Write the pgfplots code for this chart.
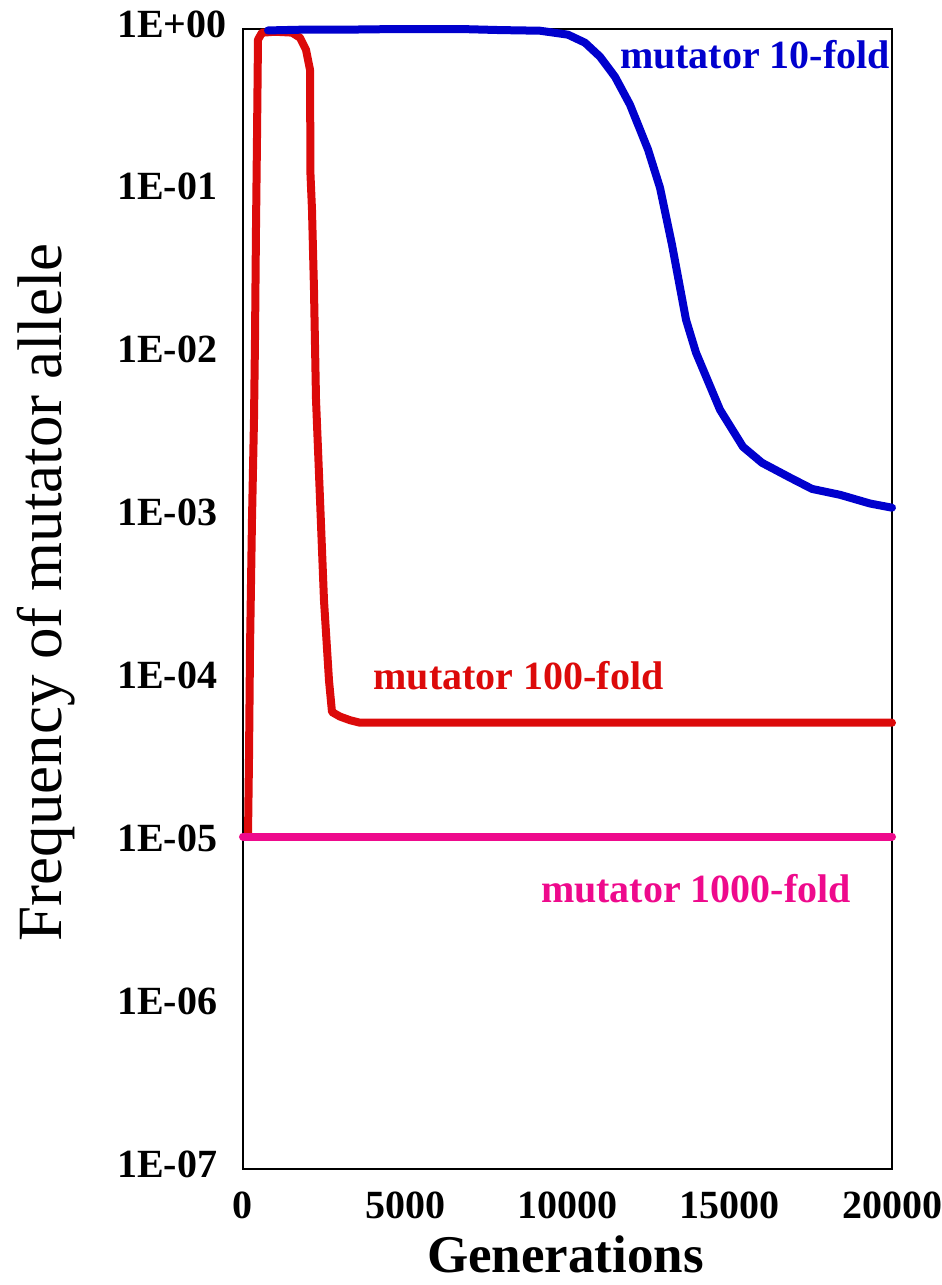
\documentclass[border=0pt]{standalone}
\usepackage{fontspec}
\setmainfont{Liberation Serif}
\usepackage{pgfplots}
\pgfplotsset{compat=1.18}

\definecolor{mblue}{RGB}{0,0,205}
\definecolor{mred}{RGB}{220,10,10}
\definecolor{mpink}{RGB}{238,10,140}

\newcommand{\tickfont}{\fontsize{40bp}{40bp}\selectfont\bfseries}

\begin{document}
\begin{tikzpicture}
\path[use as bounding box] (-243bp,-116bp) rectangle (699bp,1169bp);
\begin{axis}[
    at={(0,0)}, anchor=south west,
    scale only axis,
    width=649bp, height=1140bp,
    xmin=0, xmax=20000,
    ymode=log, ymin=1e-7, ymax=1,
    scaled x ticks=false,
    xtick={0,5000,10000,15000,20000},
    xticklabels={0,5000,10000,15000,20000},
    ytick={1e-7,1e-6,1e-5,1e-4,1e-3,1e-2,1e-1,1},
    yticklabels={1E-07,1E-06,1E-05,1E-04,1E-03,1E-02,1E-01,1E+00},
    tick style={draw=none},
    major tick length=0pt, minor tick length=0pt,
    tick label style={font=\tickfont, inner sep=0pt},
    yticklabel style={anchor=west, xshift=-126bp, yshift=5bp},
    xticklabel style={anchor=north, yshift=-23bp},
    axis line style={line width=1.5bp},
    clip=false,
    xlabel={Generations},
    xlabel style={at={(axis description cs:0.497,-0.0912)}, anchor=base,
        inner sep=0pt, font=\fontsize{53bp}{53bp}\selectfont\bfseries},
    ylabel={Frequency of mutator allele},
    ylabel style={at={(axis description cs:-0.2789,0.506)}, anchor=base,
        inner sep=0pt, font=\fontsize{63bp}{63bp}\selectfont},
    every axis plot/.append style={line width=8bp, line cap=round, line join=round},
]
% mutator 100-fold
\addplot[mred] coordinates {
    (154,1.1e-5) (185,3.3e-5) (216,1.55e-4) (277,9.7e-4) (339,4.0e-3)
    (370,0.0124) (400,0.0586) (431,0.209) (462,0.86) (585,0.949)
    (986,0.962) (1510,0.95) (1757,0.884) (1942,0.746) (2034,0.604)
    (2065,0.563) (2080,0.1275) (2126,0.078) (2157,0.044) (2188,0.025)
    (2250,0.0053) (2373,0.0013) (2496,3.1e-4) (2650,1.0e-4) (2743,6.4e-5)
    (2989,6.0e-5) (3297,5.7e-5) (3606,5.5e-5) (20000,5.5e-5)
};
% mutator 1000-fold
\addplot[mpink] coordinates {(0,1.1e-5) (20000,1.1e-5)};
% mutator 10-fold
\addplot[mblue] coordinates {
    (770,0.98) (1757,0.99) (2990,0.99) (4838,1.0) (6687,1.0)
    (7920,0.985) (9153,0.976) (10015,0.923) (10539,0.824) (11002,0.676)
    (11464,0.509) (11926,0.343) (12481,0.182) (12851,0.106) (13220,0.0474)
    (13652,0.0164) (13960,0.0103) (14700,0.00459) (15408,0.00272)
    (15994,0.00217) (16857,0.00176) (17535,0.00150) (18398,0.00138)
    (19322,0.00122) (20000,0.00115)
};
\node[anchor=base, text=mblue, font=\tickfont] at (axis cs:15778,0.570) {mutator 10-fold};
\node[anchor=base, text=mred, font=\tickfont] at (axis cs:8490,8.78e-5) {mutator 100-fold};
\node[anchor=base, text=mpink, font=\tickfont] at (axis cs:13960,4.32e-6) {mutator 1000-fold};
\end{axis}
\end{tikzpicture}
\end{document}
